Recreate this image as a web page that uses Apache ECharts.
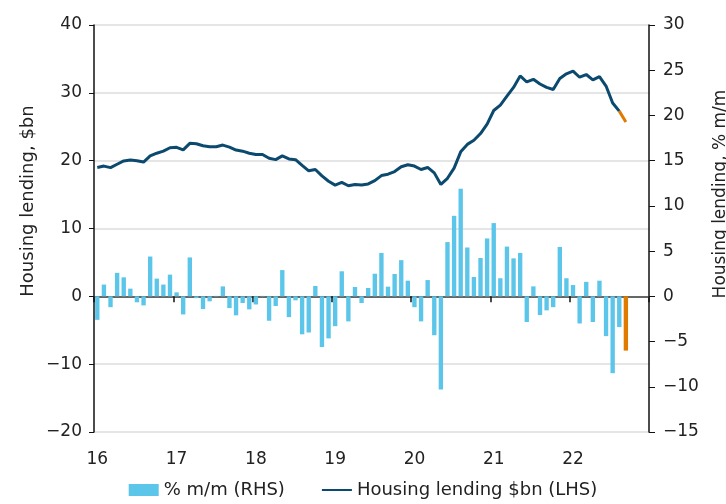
<!DOCTYPE html>
<html>
<head>
<meta charset="utf-8">
<script src="https://cdn.jsdelivr.net/npm/echarts@6/dist/echarts.min.js"></script>
<style>
  html, body { margin: 0; padding: 0; background: #fff; }
  #chart { width: 726px; height: 504px; }
</style>
</head>
<body>
<div id="chart"></div>
<script>
// monthly categories, Jan 2016 .. Dec 2022 (data ends Sep 2022)
const months = [
  'Jan-16','Feb-16','Mar-16','Apr-16','May-16','Jun-16','Jul-16','Aug-16','Sep-16','Oct-16','Nov-16','Dec-16',
  'Jan-17','Feb-17','Mar-17','Apr-17','May-17','Jun-17','Jul-17','Aug-17','Sep-17','Oct-17','Nov-17','Dec-17',
  'Jan-18','Feb-18','Mar-18','Apr-18','May-18','Jun-18','Jul-18','Aug-18','Sep-18','Oct-18','Nov-18','Dec-18',
  'Jan-19','Feb-19','Mar-19','Apr-19','May-19','Jun-19','Jul-19','Aug-19','Sep-19','Oct-19','Nov-19','Dec-19',
  'Jan-20','Feb-20','Mar-20','Apr-20','May-20','Jun-20','Jul-20','Aug-20','Sep-20','Oct-20','Nov-20','Dec-20',
  'Jan-21','Feb-21','Mar-21','Apr-21','May-21','Jun-21','Jul-21','Aug-21','Sep-21','Oct-21','Nov-21','Dec-21',
  'Jan-22','Feb-22','Mar-22','Apr-22','May-22','Jun-22','Jul-22','Aug-22','Sep-22','Oct-22','Nov-22','Dec-22'
];

// housing lending, $bn (LHS)
const lendingBn = [
  19.0, 19.2, 18.97, 19.47, 19.96, 20.1, 20.0, 19.8, 20.7, 21.1, 21.4, 21.9,
  21.97, 21.6, 22.55, 22.5, 22.2, 22.06, 22.06, 22.3, 22.0, 21.57, 21.4, 21.1,
  20.9, 20.9, 20.35, 20.15, 20.7, 20.25, 20.15, 19.3, 18.5, 18.7, 17.75, 16.97,
  16.4, 16.8, 16.3, 16.5, 16.4, 16.57, 17.06, 17.8, 18.0, 18.4, 19.1, 19.4,
  19.2, 18.7, 19.0, 18.2, 16.5, 17.4, 18.9, 21.3, 22.4, 23.0, 24.0, 25.4,
  27.4, 28.2, 29.5, 30.8, 32.5, 31.6, 32.0, 31.3, 30.8, 30.5, 32.1, 32.8,
  33.2, 32.3, 32.7, 31.9, 32.4, 31.0, 28.5, 27.3, 25.7
];

// % m/m (RHS)
const changePct = [
  -2.6, 1.3, -1.2, 2.6, 2.1, 0.85, -0.66, -1.0, 4.4, 1.96, 1.3, 2.4,
  0.44, -2.0, 4.3, -0.2, -1.4, -0.55, 0.05, 1.1, -1.3, -2.1, -0.74, -1.44,
  -0.9, 0.05, -2.7, -1.07, 2.9, -2.3, -0.44, -4.2, -4.0, 1.14, -5.6, -4.65,
  -3.3, 2.77, -2.77, 1.03, -0.74, 0.92, 2.5, 4.8, 1.07, 2.47, 4.0, 1.73,
  -1.2, -2.77, 1.8, -4.3, -10.3, 6.0, 8.9, 11.9, 5.4, 2.14, 4.24, 6.4,
  8.1, 2.0, 5.5, 4.2, 4.8, -2.84, 1.1, -2.07, -1.55, -1.2, 5.46, 2.0,
  1.25, -3.0, 1.6, -2.84, 1.73, -4.4, -8.5, -3.4, -6.0
];

const leftTicks = [-20, -10, 0, 10, 20, 30, 40];
const rightTicks = [-15, -10, -5, 0, 5, 10, 15, 20, 25, 30];

const BLUE = '#5bc6e9';
const NAVY = '#0b4a6e';
const ORANGE = '#e07b00';
const FONT = 'DejaVu Sans';

// last month highlighted in orange
const last = changePct.length - 1;
const barData = changePct.map((v, i) =>
  i === last ? { value: v, itemStyle: { color: ORANGE } } : v);
const latestLine = lendingBn.map((v, i) => (i >= last - 1 ? v : null));

const tickFmt = (v) => (v < 0 ? '\u2212' + Math.abs(v) : String(v));

let chart = echarts.init(document.getElementById('chart'));

chart.setOption({
  animation: false,
  textStyle: { fontFamily: FONT },
  grid: { left: 94, right: 77, top: 25, bottom: 72 },
  legend: {
    bottom: 0,
    left: 'center',
    itemWidth: 30,
    itemHeight: 12,
    itemGap: 36,
    textStyle: { fontSize: 18, color: '#222', fontFamily: FONT },
    data: [
      { name: '% m/m (RHS)', icon: 'rect' },
      { name: 'Housing lending $bn (LHS)', itemStyle: { opacity: 0 } }
    ]
  },
  xAxis: [
    {
      type: 'category',
      data: months,
      boundaryGap: true,
      position: 'bottom',
      axisLine: { show: false, onZero: false },
      axisTick: { show: false },
      axisLabel: {
        interval: 11,
        margin: 19,
        fontSize: 17,
        color: '#222',
        formatter: (v) => v.slice(-2)
      }
    },
    {
      type: 'category',
      data: months,
      boundaryGap: true,
      position: 'bottom',
      axisLine: { show: true, onZero: true, onZeroAxisIndex: 0, lineStyle: { color: '#666', width: 2 } },
      axisTick: { show: true, interval: 11, length: 6, lineStyle: { color: '#111', width: 1.5 } },
      axisLabel: { show: false },
      splitLine: { show: false }
    }
  ],
  yAxis: [
    {
      type: 'value',
      min: leftTicks[0],
      max: leftTicks[leftTicks.length - 1],
      interval: 10,
      position: 'left',
      axisLine: { show: true, lineStyle: { color: '#111', width: 1.5 } },
      axisTick: { show: true, length: 5, lineStyle: { color: '#111' } },
      axisLabel: { fontSize: 17, color: '#222', margin: 12, formatter: tickFmt },
      splitLine: { show: true, lineStyle: { color: '#dcdcdc', width: 1.5 } }
    },
    {
      type: 'value',
      min: rightTicks[0],
      max: rightTicks[rightTicks.length - 1],
      interval: 5,
      position: 'right',
      axisLine: { show: true, lineStyle: { color: '#111', width: 1.5 } },
      axisTick: { show: true, length: 6, lineStyle: { color: '#111' } },
      axisLabel: { fontSize: 17, color: '#222', margin: 14, formatter: tickFmt },
      splitLine: { show: false }
    }
  ],
  graphic: [
    {
      type: 'text',
      x: 28, y: 201,
      rotation: Math.PI / 2,
      style: {
        text: 'Housing lending, $bn',
        font: '18px "DejaVu Sans"',
        fill: '#222',
        align: 'center',
        verticalAlign: 'middle'
      }
    },
    {
      type: 'text',
      x: 721, y: 194,
      rotation: Math.PI / 2,
      style: {
        text: 'Housing lending, % m/m',
        font: '17px "DejaVu Sans"',
        fill: '#222',
        align: 'center',
        verticalAlign: 'middle'
      }
    }
  ],
  series: [
    {
      name: '% m/m (RHS)',
      type: 'bar',
      xAxisIndex: 0,
      yAxisIndex: 1,
      data: barData,
      barCategoryGap: '34%',
      itemStyle: { color: BLUE },
      z: 2
    },
    {
      name: 'Housing lending $bn (LHS)',
      type: 'line',
      xAxisIndex: 0,
      yAxisIndex: 0,
      data: lendingBn.slice(0, last),
      symbol: 'none',
      lineStyle: { color: NAVY, width: 3 },
      itemStyle: { color: NAVY },
      z: 4
    },
    {
      name: 'latest',
      type: 'line',
      xAxisIndex: 0,
      yAxisIndex: 0,
      data: latestLine,
      symbol: 'none',
      lineStyle: { color: ORANGE, width: 3 },
      itemStyle: { color: ORANGE },
      z: 5
    }
  ]
});
</script>
</body>
</html>
